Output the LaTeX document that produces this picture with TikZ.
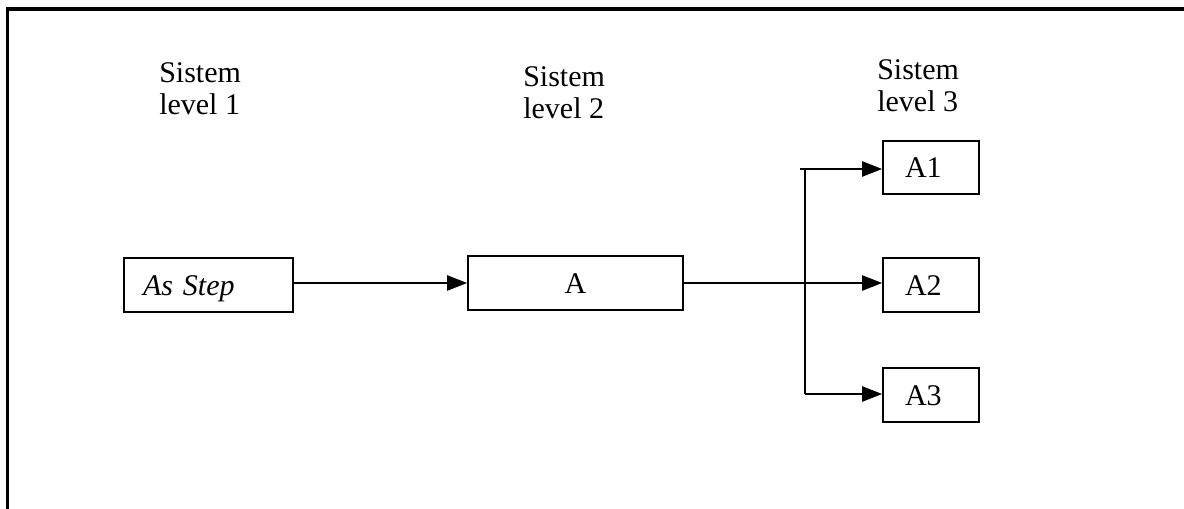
\documentclass[tikz,border=0pt]{standalone}
\usepackage{fontspec}
\setmainfont{Liberation Serif}
\usetikzlibrary{arrows.meta}
\begin{document}
\begin{tikzpicture}[x=0.75pt,y=-0.75pt,
  every node/.style={font=\fontsize{22.5}{24}\selectfont},
  lbl/.style={anchor=north west, inner sep=0pt, align=left},
  box/.style={draw, line width=1.4pt, minimum height=40.5pt, text height=15.5pt, text depth=0pt},
  leftbox/.style={box, align=left, inner xsep=14.25pt, text width=98.25pt},
  abox/.style={box, align=left, inner xsep=16.5pt, text width=39pt},
  conn/.style={line width=1.1pt},
  arr/.style={conn, -{Triangle[length=15pt,width=11.5pt]}},
  frame/.style={line width=2.3pt}
]
\useasboundingbox (0,0) rectangle (1184,509);
\draw[frame] (7.5,509) -- (7.5,9) -- (1184,9);

\node[lbl] (l1) at (159,62.5) {Sistem\\level 1};
\node[lbl] (l2) at (523,66) {Sistem\\level 2};
\node[lbl] (l3) at (877,59) {Sistem\\level 3};

\node[leftbox] (s) at (208.5,285) {\textit{As Step}};
\node[box, minimum width=161.25pt, align=center] (a) at (575.5,283) {A};
\node[abox, minimum height=39.75pt] (a1) at (931,167.5) {A1};
\node[abox] (a2) at (931,285) {A2};
\node[abox] (a3) at (931,395) {A3};

\coordinate (jt) at (805,169);
\coordinate (jb) at (805,394);
\coordinate (st) at (800,169);

\draw[arr] (s.east |- a.west) -- (a.west);
\draw[arr] (a.east) -- (a.east -| a2.west);
\draw[conn] (jt) -- (jb);
\draw[arr] (st) -- (st -| a1.west);
\draw[arr] (jb) -- (jb -| a3.west);
\end{tikzpicture}
\end{document}
